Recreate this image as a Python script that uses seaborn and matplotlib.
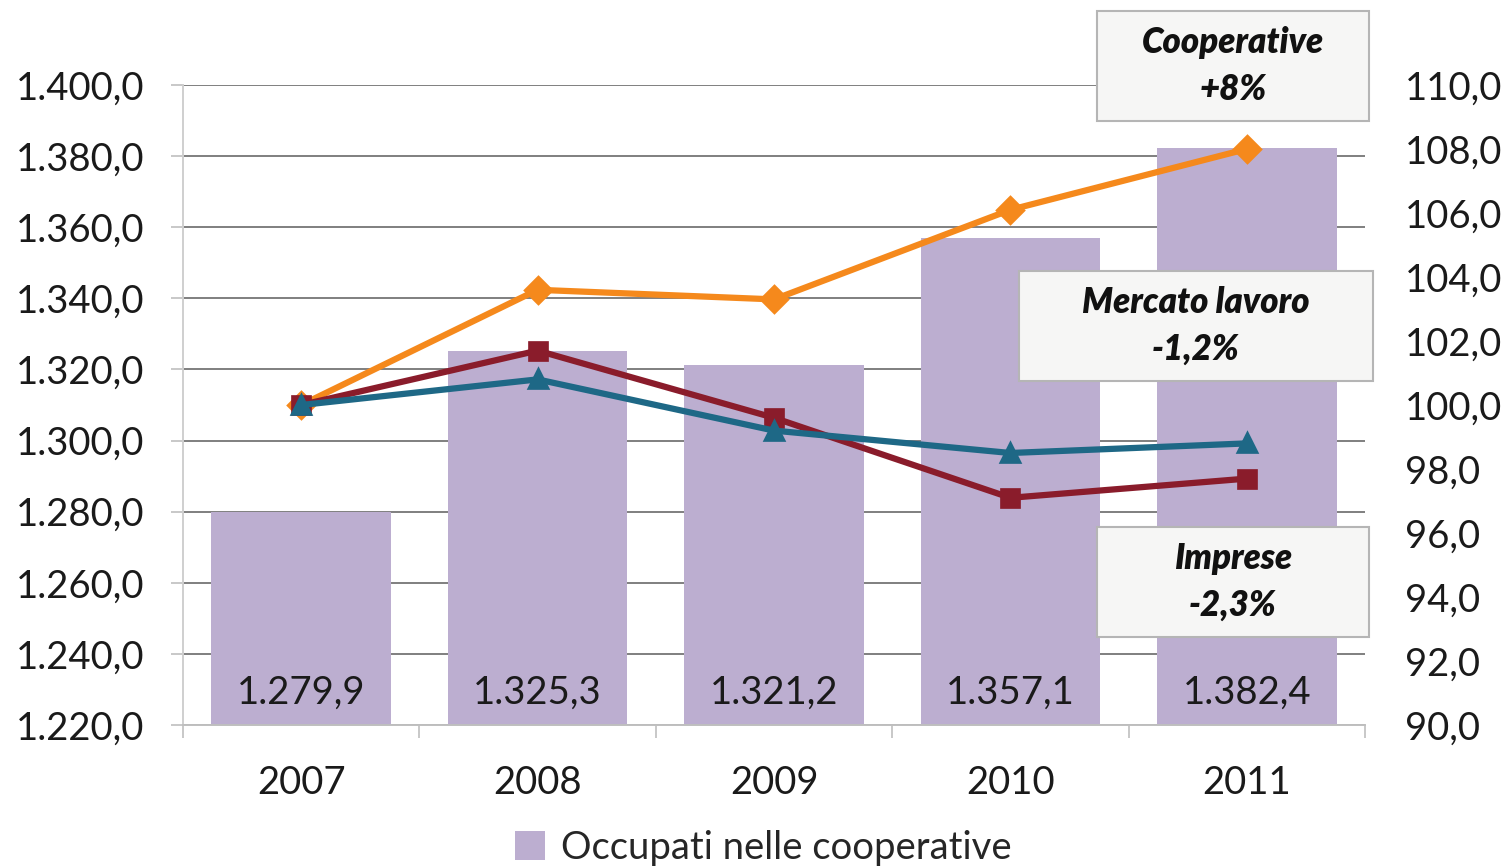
import matplotlib
matplotlib.use("Agg")
import matplotlib.pyplot as plt
from matplotlib.patches import Patch, Rectangle
import seaborn as sns
import pandas as pd

years = ["2007", "2008", "2009", "2010", "2011"]
occupati = [1279.9, 1325.3, 1321.2, 1357.1, 1382.4]
cooperative_idx = [100.0, 103.6, 103.3, 106.1, 108.0]
imprese_idx = [100.0, 101.7, 99.6, 97.1, 97.7]
mercato_idx = [100.0, 100.8, 99.2, 98.5, 98.8]
series_names = ["Cooperative", "Imprese", "Mercato lavoro"]
left_ticks = [1220, 1240, 1260, 1280, 1300, 1320, 1340, 1360, 1380, 1400]
right_ticks = [90, 92, 94, 96, 98, 100, 102, 104, 106, 108, 110]
bar_label_name = "Occupati nelle cooperative"
box_texts = ["Cooperative\n+8%", "Mercato lavoro\n-1,2%", "Imprese\n-2,3%"]

BAR_C = "#bcaed0"
COL = {"Cooperative": "#f5891c", "Imprese": "#8a1c2b", "Mercato lavoro": "#1e6886"}


def it_fmt(v):
    s = f"{v:,.1f}"
    return s.replace(",", "X").replace(".", ",").replace("X", ".")


sns.set_style("white")
plt.rcParams["font.family"] = ["Lato", "DejaVu Sans"]

FS = 27.5
fig = plt.figure(figsize=(15.08, 8.67), dpi=100)
W, H = 1508, 867
ax = fig.add_axes([183 / W, 1 - 725 / H, (1365 - 183) / W, (725 - 85) / H])

df_bar = pd.DataFrame({"anno": years, "occupati": occupati})
ax.grid(False)
for t in left_ticks:
    ax.axhline(t, color="#7f7f7f", lw=1.4, zorder=0)
sns.barplot(data=df_bar, x="anno", y="occupati", color=BAR_C, width=0.76,
            saturation=1, ax=ax, zorder=2, edgecolor="none")
ax.set_ylim(1220, 1400)
ax.set_xlim(-0.5, len(years) - 0.5)
ax.set_yticks(left_ticks)
ax.set_yticklabels([it_fmt(t) for t in left_ticks])
ax.set_xlabel("")
ax.set_ylabel("")
ax.tick_params(axis="y", which="major", length=9, width=1.2, color="#bfbfbf",
               labelsize=FS, pad=19, labelcolor="#1a1a1a", left=True)
ax.set_xticks([i - 0.5 for i in range(len(years) + 1)], minor=True)
ax.tick_params(axis="x", which="minor", length=9, width=1.2, color="#bfbfbf",
               bottom=True, direction="out")
ax.tick_params(axis="x", which="major", length=0, labelsize=FS, pad=29,
               labelcolor="#1a1a1a")
for sp in ["top", "right"]:
    ax.spines[sp].set_visible(False)
ax.spines["left"].set_color("#cfcfcf")
ax.spines["left"].set_linewidth(1.4)
ax.spines["bottom"].set_color("#bfbfbf")
ax.spines["bottom"].set_linewidth(1.4)

# value labels inside bars, near the base
for i, v in enumerate(occupati):
    ax.text(i, 1229, it_fmt(v), ha="center", va="center", fontsize=FS,
            color="#1a1a1a", zorder=5)

ax2 = ax.twinx()
df_lines = pd.DataFrame({
    "anno": years * 3,
    "indice": cooperative_idx + imprese_idx + mercato_idx,
    "serie": [series_names[0]] * 5 + [series_names[1]] * 5 + [series_names[2]] * 5,
})
sns.pointplot(data=df_lines, x="anno", y="indice", hue="serie",
              hue_order=series_names, palette=COL, markers=["D", "s", "^"],
              errorbar=None, ax=ax2, linewidth=4.5, markersize=12, legend=False)
ax2.set_ylim(90, 110)
ax2.set_xlim(-0.5, len(years) - 0.5)
ax2.set_yticks(right_ticks)
ax2.set_yticklabels([it_fmt(t) for t in right_ticks])
ax2.tick_params(axis="y", length=0, labelsize=FS, pad=29, labelcolor="#1a1a1a")
ax2.set_ylabel("")
ax2.set_xlabel("")
for sp in ax2.spines.values():
    sp.set_visible(False)

# annotation boxes (figure pixel coordinates)
boxes = [(1097, 11, 1369, 121), (1019, 271, 1373, 381), (1097, 527, 1369, 637)]
for (x0, y0, x1, y1), txt in zip(boxes, box_texts):
    fig.patches.append(Rectangle((x0 / W, 1 - y1 / H), (x1 - x0) / W, (y1 - y0) / H,
                                 transform=fig.transFigure, facecolor="#f6f6f5",
                                 edgecolor="#b5b5b5", lw=1.5, zorder=10))
    fig.text((x0 + x1) / 2 / W, 1 - (y0 + y1) / 2 / H, txt, ha="center", va="center",
             fontsize=25, fontweight="heavy", fontstyle="italic", color="#111111",
             linespacing=1.5, zorder=11)

fig.legend(handles=[Patch(facecolor=BAR_C, edgecolor="none", label=bar_label_name)],
           loc="center", bbox_to_anchor=(763 / W, 1 - 848 / H), frameon=False,
           fontsize=FS, handlelength=0.8, handleheight=0.8, handletextpad=0.4,
           borderpad=0.1)

fig.savefig("out.png", dpi=100)
